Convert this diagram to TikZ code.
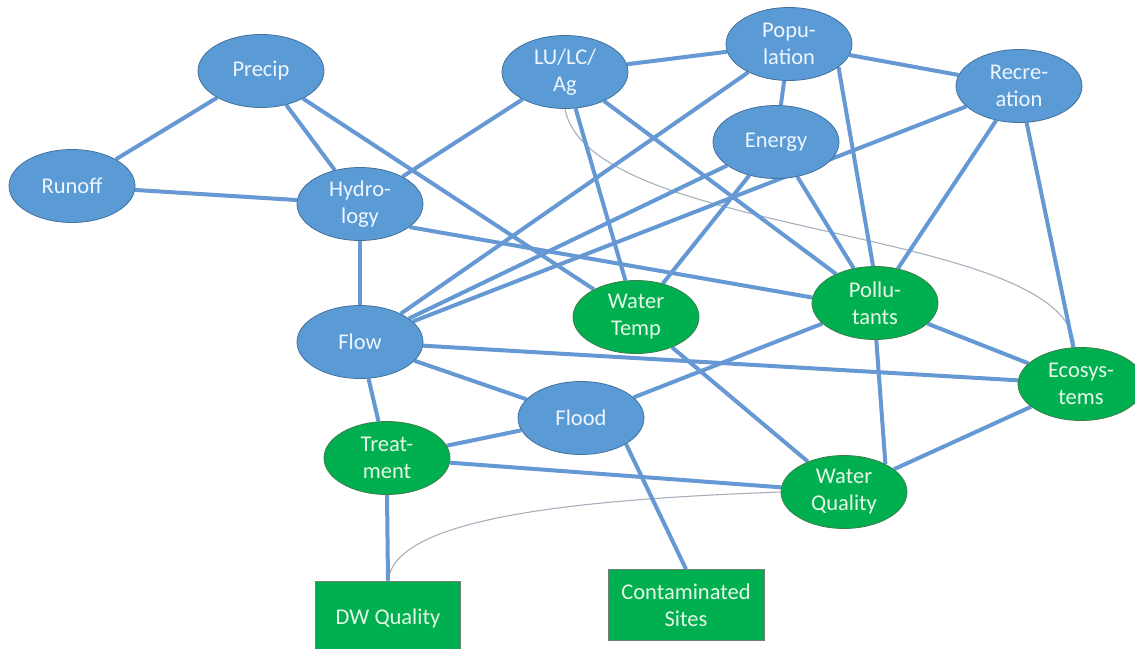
\documentclass[tikz,border=0pt]{standalone}
\usepackage{fontspec}
\setmainfont{Carlito}
\usetikzlibrary{shapes.geometric}
\pgfdeclarelayer{bg}
\pgfsetlayers{bg,main}

\begin{document}
\begin{tikzpicture}[x=1pt, y=-1pt]
    \tikzstyle{every node} = [font=\fontsize{22.5}{27}\selectfont, align=center]
    \tikzstyle{driver} = [ellipse, draw=bordblue, fill=nodblue, text=txtblue, line width=0.8pt, inner sep=0pt, minimum width=126pt, minimum height=73pt]
    \tikzstyle{effect} = [driver, draw=bordgreen, fill=nodgreen, text=txtgreen]
    \tikzstyle{endbox} = [rectangle, draw=bordgray, fill=nodgreen, text=txtgreen, line width=0.8pt, inner sep=0pt]
    \tikzstyle{link} = [draw=linkblue, line width=4pt]
    \tikzstyle{faint} = [draw=faintgray, line width=1.1pt]

    \definecolor{nodblue}{HTML}{5B9BD5}
    \definecolor{bordblue}{HTML}{41719C}
    \definecolor{nodgreen}{HTML}{00B050}
    \definecolor{bordgreen}{HTML}{3A7D4A}
    \definecolor{bordgray}{HTML}{6F7F75}
    \definecolor{linkblue}{HTML}{6699D4}
    \definecolor{faintgray}{HTML}{A8B0BC}
    \definecolor{txtblue}{HTML}{EEF5FF}
    \definecolor{txtgreen}{HTML}{E6F7E6}

    \useasboundingbox (0,0) rectangle (1135,648);

    \node[driver] (precip) at (261,71)  {Precip};
    \node[driver] (runoff) at (72,186)  {Runoff};
    \node[driver] (hydro)  at (360,204) {Hydro-\\logy};
    \node[driver] (lulc)   at (565,72)  {LU/LC/\\Ag};
    \node[driver] (popu)   at (789,44)  {Popu-\\lation};
    \node[driver] (recre)  at (1019,86) {Recre-\\ation};
    \node[driver] (energy) at (776,142) {Energy};
    \node[driver] (flow)   at (360,342) {Flow};
    \node[driver] (flood)  at (581,418) {Flood};
    \node[effect] (wtemp)  at (636,317) {Water\\Temp};
    \node[effect] (pollu)  at (875,303) {Pollu-\\tants};
    \node[effect] (eco)    at (1081,384) {Ecosys-\\tems};
    \node[effect] (treat)  at (387,458) {Treat-\\ment};
    \node[effect] (wq)     at (844,492) {Water\\Quality};
    \node[endbox, minimum width=145pt, minimum height=74pt] (dw)   at (388,618) {DW Quality};
    \node[endbox, minimum width=156pt, minimum height=71pt] (cont) at (686,605) {Contaminated\\Sites};

    \begin{pgfonlayer}{bg}
        \draw[faint] (lulc.south) .. controls (590,240) and (1070,225) .. (eco.100);
        \draw[faint] (dw.north) .. controls (395,520) and (560,500) .. (wq.west);

        \foreach \a/\b in {precip/runoff, precip/hydro, precip/wtemp, runoff/hydro, hydro/lulc, hydro/flow,
                           hydro.-25/pollu.175, lulc/popu, lulc/wtemp, lulc/pollu, popu/energy, popu/recre,
                           popu/flow, popu.-25/pollu.93, energy/flow, energy/wtemp, energy/pollu, recre/flow,
                           recre/pollu, recre/eco, flow/eco, flow/flood, flow/treat, flood/treat, flood/pollu,
                           flood.-30/cont.north, treat/wq, treat.south/dw.north, wtemp/wq, pollu.-88/wq.34,
                           pollu/eco, eco/wq}
            \draw[link] (\a) -- (\b);
    \end{pgfonlayer}
\end{tikzpicture}
\end{document}
